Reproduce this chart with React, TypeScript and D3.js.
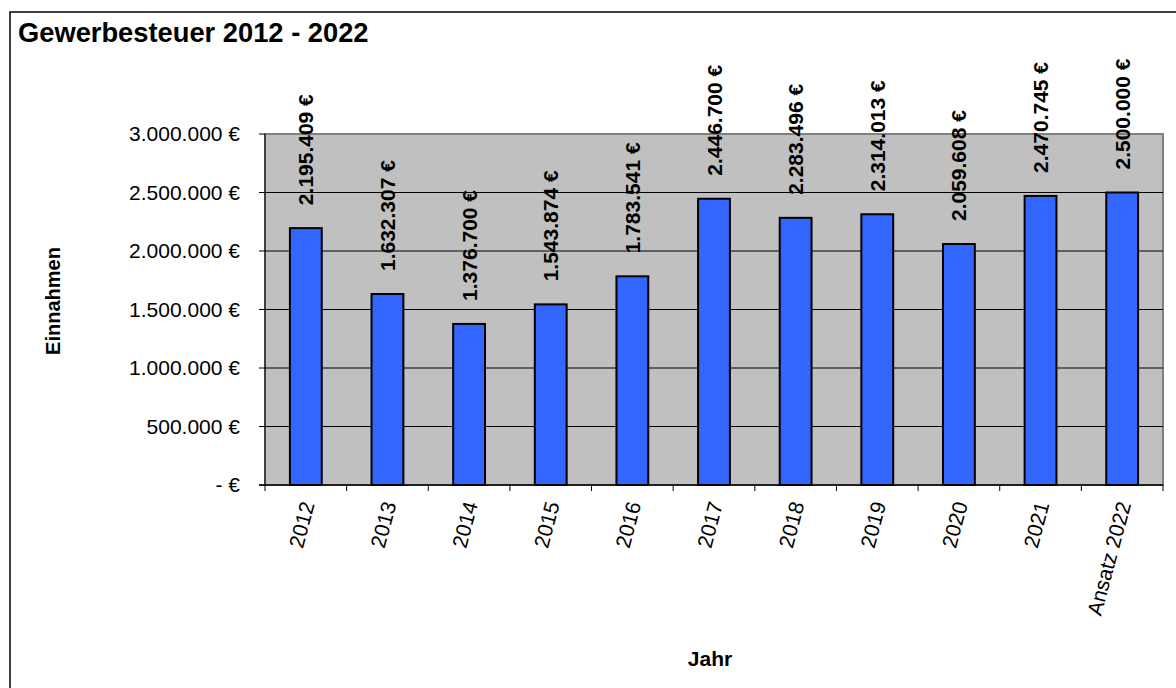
import React from "react";
import * as d3 from "d3";

const categories = ["2012", "2013", "2014", "2015", "2016", "2017", "2018", "2019", "2020", "2021", "Ansatz 2022"];
const values = [2195409, 1632307, 1376700, 1543874, 1783541, 2446700, 2283496, 2314013, 2059608, 2470745, 2500000];
const yTicks = [0, 500000, 1000000, 1500000, 2000000, 2500000, 3000000];
const title = "Gewerbesteuer 2012 - 2022";
const yTitle = "Einnahmen";
const xTitle = "Jahr";

const W = 1176;
const H = 688;
const plot = { left: 265, right: 1163, top: 134, bottom: 485 };
const FONT = "'Liberation Sans', Arial, sans-serif";

const locale = d3.formatLocale({ decimal: ",", thousands: ".", grouping: [3], currency: ["", " €"] });
const fmt = locale.format(",.0f");
const euro = (v: number) => (v === 0 ? "-  €" : fmt(v) + " €");

export default function App() {
  const x = d3.scaleBand<string>().domain(categories).range([plot.left, plot.right]).padding(0);
  const y = d3.scaleLinear().domain([0, 3000000]).range([plot.bottom, plot.top]);
  const step = x.step();
  const barW = step * 0.39;

  return (
    <svg width={W} height={H} style={{ position: "absolute", left: 0, top: 0, background: "#fff" }} fontFamily={FONT}>
      <rect x={10} y={12} width={1250} height={760} fill="#fff" stroke="#000" strokeWidth={1.5} />
      <text x={18} y={42} fontSize={27.3} fontWeight="bold" fill="#000">{title}</text>

      <rect x={plot.left} y={plot.top} width={plot.right - plot.left} height={plot.bottom - plot.top} fill="#C0C0C0" stroke="#808080" strokeWidth={2} />
      {yTicks.filter(t => t > 0 && t < 3000000).map(t => (
        <line key={"g" + t} x1={plot.left} x2={plot.right} y1={y(t)} y2={y(t)} stroke="#000" strokeWidth={1} />
      ))}

      {categories.map((c, i) => {
        const cx = (x(c) as number) + step / 2;
        const top = y(values[i]);
        return (
          <g key={c}>
            <rect x={cx - barW / 2} y={top} width={barW} height={plot.bottom - top} fill="#3366FF" stroke="#000" strokeWidth={2} />
            <text transform={`translate(${cx + 7.5},${top - 23}) rotate(-90)`} fontSize={21} fontWeight="bold" fill="#000" textAnchor="start">
              {euro(values[i])}
            </text>
          </g>
        );
      })}

      {/* axes */}
      <line x1={plot.left} x2={plot.left} y1={plot.top} y2={plot.bottom} stroke="#000" strokeWidth={1} />
      <line x1={plot.left - 6} x2={plot.right} y1={plot.bottom} y2={plot.bottom} stroke="#000" strokeWidth={1.5} />
      {yTicks.map(t => (
        <g key={"t" + t}>
          <line x1={plot.left - 6} x2={plot.left} y1={y(t)} y2={y(t)} stroke="#000" strokeWidth={1} />
          <text x={240} y={y(t)} dy="0.35em" fontSize={21} textAnchor="end" fill="#000">{euro(t)}</text>
        </g>
      ))}
      {d3.range(categories.length + 1).map(i => (
        <line key={"xt" + i} x1={plot.left + i * step} x2={plot.left + i * step} y1={plot.bottom} y2={plot.bottom + 6} stroke="#000" strokeWidth={1} />
      ))}
      {categories.map(c => {
        const cx = (x(c) as number) + step / 2;
        return (
          <text key={"xl" + c} transform={`translate(${cx + 9},504) rotate(-75)`} fontSize={21} textAnchor="end" fill="#000">{c}</text>
        );
      })}

      <text transform={`translate(60,301) rotate(-90)`} fontSize={20} fontWeight="bold" textAnchor="middle" fill="#000">{yTitle}</text>
      <text x={710} y={666} fontSize={21} fontWeight="bold" textAnchor="middle" fill="#000">{xTitle}</text>
    </svg>
  );
}
